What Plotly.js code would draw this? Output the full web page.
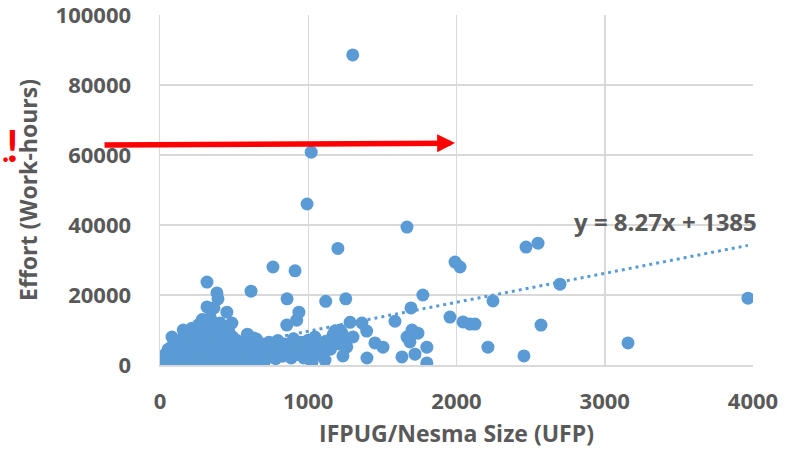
<!DOCTYPE html>
<html>
<head>
<meta charset="utf-8">
<script src="https://cdn.plot.ly/plotly-3.0.1.min.js"></script>
<style>html,body{margin:0;padding:0;background:#fff;}#chart{width:796px;height:458px;}</style>
</head>
<body>
<div id="chart"></div>
<script>
// Project size (UFP) — sparse / outlying projects
const outlierSize = [1300,1020,992,1666,1200,2469,2550,1990,2024,762,911,2698,317,614,384,391,857,1253,1773,1118,2246,3966,317,364,1693,451,937,1956,303,922,485,855,1282,1362,1585,2044,2091,2125,2570,157,81,628,1180,1227,1394,1302,1700,1740,1666,1686,1450,1504,1800,1720,1133,1079,1234,1396,1632,1800,1025,1113,1000,1045,960,1167,1214,2212,2455,3157];
const outlierEffort = [88600,60800,46000,39400,33300,33700,34800,29400,28000,28000,26900,23100,23700,21100,20600,18900,18900,18900,20000,18200,18300,19100,16600,16300,16300,15100,15100,13700,12800,12800,12000,11400,12200,12000,12500,12300,11700,11700,11400,10000,8000,7700,9700,9100,9700,8000,10000,9100,8000,6600,6300,5100,5100,3100,5100,2900,2600,2000,2300,600,900,1400,7100,8000,6000,8600,10000,5100,2600,6300];
// Dense cluster of small projects
const clusterSize = [15,20,30,35,40,45,50,55,60,65,70,75,80,85,90,95,100,105,110,115,120,125,130,135,140,145,150,155,160,165,170,175,180,185,190,195,200,205,210,215,220,225,230,235,240,245,250,255,260,265,270,275,280,285,290,295,300,305,310,315,320,325,330,335,340,345,350,355,360,365,370,375,380,385,390,395,400,405,410,415,420,425,430,435,440,445,450,455,460,465,470,475,480,485,490,495,500,510,520,530,540,550,560,570,580,590,600,610,620,630,640,650,660,670,680,690,700,710,720,735,750,765,780,795,810,825,840,855,870,885,900,915,930,950,970,990,1010,1040,1060,1090,1120,1150,1180,1210,1240,1260,10,25,50,75,100,130,160,190,220,260,300,340,380,420,460,500,550,600,650,700];
const clusterEffort = [500,1500,800,3000,2200,400,1200,4500,2800,600,1800,3500,5200,1000,2500,300,4000,1500,6000,2200,800,3200,5000,1200,7000,2600,400,4200,1800,9000,3000,700,5500,2000,8000,3800,1000,6500,2500,10500,4500,1500,7500,3000,500,5500,9500,2000,11500,4000,1200,6800,3200,13000,800,5000,9000,2200,7000,4200,10800,1500,6000,3500,13500,800,8200,2800,5200,11000,1800,7200,4000,9800,600,6000,2500,12000,4800,1200,8500,3300,6500,10500,2000,5000,900,7800,3800,9500,1500,6000,3000,4500,8000,700,5500,2400,7000,1200,4200,6200,2800,800,5000,8800,3500,1800,6500,4000,2200,7400,1000,5200,3000,6000,4500,1500,3800,6500,2600,5000,1800,7000,4000,2500,6000,3200,5500,2000,7500,4500,3000,6500,2000,5000,3800,6000,4200,5500,6800,4500,7500,6000,8000,5200,200,100,300,150,200,250,100,300,200,150,300,200,100,250,300,200,400,300,500,600];

const sizeUFP = outlierSize.concat(clusterSize);
const effortHours = outlierEffort.concat(clusterEffort);

// Linear trend line reported on the chart
const trendSlope = 8.27;
const trendIntercept = 1385;
const trendLabel = 'y = 8.27x + 1385';

const xTicks = [0, 1000, 2000, 3000, 4000];
const yTicks = [0, 20000, 40000, 60000, 80000, 100000];

const xMin = Math.min.apply(null, sizeUFP);
const xMax = Math.max.apply(null, sizeUFP);
const trendX = [xMin, xMax];
const trendY = trendX.map(v => trendSlope * v + trendIntercept);

const blue = '#5B9BD5';
const grey = '#595959';
const font = '"Open Sans", "Noto Sans", sans-serif';
const fontL = 'Lato, sans-serif';

const data = [
  {
    type: 'scatter', mode: 'lines', x: trendX, y: trendY,
    line: {color: blue, width: 3, dash: '3px,4px'}, hoverinfo: 'skip', showlegend: false
  },
  {
    type: 'scatter', mode: 'markers', x: sizeUFP, y: effortHours,
    marker: {color: blue, size: 13, line: {width: 0}}, showlegend: false
  }
];

const layout = {
  width: 796, height: 458,
  margin: {l: 160, r: 43, t: 15, b: 93},
  paper_bgcolor: '#ffffff', plot_bgcolor: '#ffffff',
  font: {family: font, color: grey},
  showlegend: false,
  xaxis: {
    range: [0, 4000], tickvals: xTicks, ticktext: xTicks.map(String),
    showgrid: true, gridcolor: '#d9d9d9', gridwidth: 1.5,
    zeroline: false, showline: true, linecolor: '#d9d9d9', linewidth: 1.5,
    ticks: 'outside', ticklen: 16, tickcolor: 'rgba(0,0,0,0)',
    ticklabeloverflow: 'allow',
    tickfont: {family: font, size: 22, color: grey, weight: 'bold'},
    title: {text: 'IFPUG/Nesma Size (UFP)', font: {family: font, size: 23, color: grey, weight: 'bold'}, standoff: 12},
    automargin: false, fixedrange: true
  },
  yaxis: {
    range: [0, 100000], tickvals: yTicks, ticktext: yTicks.map(String),
    showgrid: true, gridcolor: '#d9d9d9', gridwidth: 1.5,
    zeroline: false, showline: true, linecolor: '#d9d9d9', linewidth: 1.5,
    ticks: 'outside', ticklen: 23, tickcolor: 'rgba(0,0,0,0)',
    ticklabeloverflow: 'allow',
    tickfont: {family: font, size: 22, color: grey, weight: 'bold'},
    title: {text: 'Effort (Work-hours)', font: {family: font, size: 23, color: grey, weight: 'bold'}, standoff: 11},
    automargin: false, fixedrange: true
  },
  annotations: [
    {
      xref: 'paper', yref: 'paper', x: 0.853, y: 0.411, xanchor: 'center', yanchor: 'middle',
      text: trendLabel, showarrow: false,
      font: {family: font, size: 24, color: grey, weight: 'bold'}
    },
    {
      xref: 'x', yref: 'y', x: 1990, y: 63400, ax: -352, ay: 2,
      text: '', showarrow: true, arrowhead: 2, arrowsize: 0.65, arrowwidth: 5.5, arrowcolor: '#ff0000'
    },
    {
      xref: 'paper', yref: 'paper', x: -0.2698, y: 0.63, xanchor: 'left', yanchor: 'middle',
      text: '<span style="font-size:30px;letter-spacing:-3px">.</span>!', showarrow: false,
      font: {family: fontL, size: 44, color: '#ff0000', weight: 'bold'}
    }
  ]
};

Plotly.newPlot('chart', data, layout, {displayModeBar: false, staticPlot: true});
</script>
</body>
</html>
